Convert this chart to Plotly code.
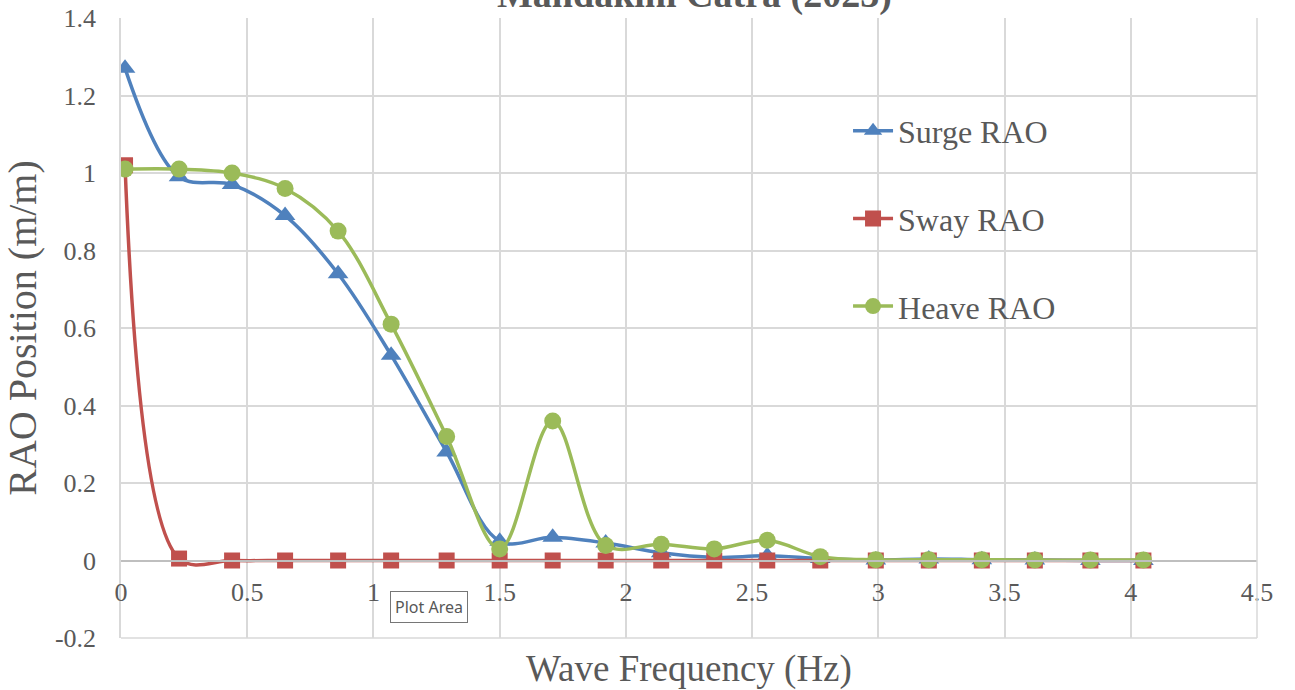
import plotly.graph_objects as go

freq = [0.016, 0.23, 0.44, 0.65, 0.86, 1.07, 1.29, 1.50, 1.71, 1.92,
        2.14, 2.35, 2.56, 2.77, 2.99, 3.20, 3.41, 3.62, 3.84, 4.05]
surge = [1.27, 0.99, 0.97, 0.89, 0.74, 0.53, 0.28, 0.05, 0.06, 0.045,
         0.02, 0.008, 0.012, 0.005, 0.001, 0.004, 0.002, 0.001, 0.0, 0.0]
sway = [1.02, 0.005, 0.0, 0.0, 0.0, 0.0, 0.0, 0.0, 0.0, 0.0,
        0.0, 0.0, 0.0, 0.0, 0.0, 0.0, 0.0, 0.0, 0.0, 0.0]
heave = [1.01, 1.01, 1.0, 0.96, 0.85, 0.61, 0.32, 0.03, 0.36, 0.039,
         0.042, 0.03, 0.052, 0.01, 0.002, 0.002, 0.002, 0.001, 0.001, 0.001]

x_ticks = [0, 0.5, 1, 1.5, 2, 2.5, 3, 3.5, 4, 4.5]
y_ticks = [-0.2, 0, 0.2, 0.4, 0.6, 0.8, 1, 1.2, 1.4]

SERIF = "Liberation Serif"
GRAY = "#595959"
GRID = "#D9D9D9"

fig = go.Figure()
series = [
    ("Surge RAO", surge, "#4F81BD", "triangle-up", 18),
    ("Sway RAO", sway, "#C0504D", "square", 16),
    ("Heave RAO", heave, "#9BBB59", "circle", 17),
]
for i, (name, vals, col, sym, size) in enumerate(series):
    fig.add_trace(go.Scatter(
        x=freq, y=vals, name=name, mode="lines+markers",
        line=dict(color=col, width=3.5, shape="spline", smoothing=1.0),
        marker=dict(color=col, symbol=sym, size=size),
        legendgroup=f"g{i}",
    ))

fig.update_layout(
    width=1295, height=690,
    margin=dict(l=121, r=38, t=18, b=52),
    plot_bgcolor="white", paper_bgcolor="white",
    font=dict(family=SERIF, color=GRAY),
    showlegend=True,
    legend=dict(x=0.64, y=0.862, xanchor="left", yanchor="top",
                font=dict(size=32, color=GRAY, family=SERIF),
                tracegroupgap=43, bgcolor="rgba(0,0,0,0)", itemwidth=40),
    xaxis=dict(range=[0, 4.5], tickvals=x_ticks, ticktext=[f"{v:g}" for v in x_ticks],
               showgrid=True, gridcolor=GRID, gridwidth=1.5,
               showline=True, linecolor="#BFBFBF", linewidth=2,
               zeroline=False, anchor="free", position=0.125, automargin=False,
               tickfont=dict(size=26, color=GRAY, family=SERIF),
               ticks="", ticklabelstandoff=8,
               title=dict(text="Wave Frequency (Hz)", font=dict(size=37, color=GRAY, family=SERIF),
                          standoff=62)),
    yaxis=dict(range=[-0.2, 1.4], tickvals=y_ticks, ticktext=[f"{v:g}" for v in y_ticks],
               showgrid=True, gridcolor=GRID, gridwidth=1.5,
               showline=True, linecolor=GRID, linewidth=1.5, automargin=False,
               zeroline=False, ticks="", ticklabelstandoff=18,
               tickfont=dict(size=26, color=GRAY, family=SERIF),
               title=dict(text="RAO Position (m/m)", font=dict(size=40, color=GRAY, family=SERIF),
                          standoff=12)),
)

# bottom and right border of plot area
fig.add_shape(type="line", xref="paper", yref="paper", x0=0, x1=1, y0=0, y1=0,
              line=dict(color=GRID, width=1.5))
fig.add_shape(type="line", xref="paper", yref="paper", x0=1, x1=1, y0=0, y1=1,
              line=dict(color=GRID, width=1.5))

# Title (partially cut off at top as in reference)
fig.add_annotation(text="<b>Mandakini Catra (2023)</b>", xref="paper", yref="paper",
                   x=0.505, y=1.0, xanchor="center", yanchor="bottom", showarrow=False,
                   font=dict(size=38, color=GRAY, family=SERIF))

# Excel tooltip
fig.add_annotation(text="Plot Area", xref="paper", yref="paper",
                   x=(429 - 121) / 1136, y=(637.5 - 606) / 620, xanchor="center", yanchor="middle",
                   showarrow=False, bgcolor="white", bordercolor="#767676", borderwidth=1, borderpad=4,
                   font=dict(size=16, color="#575757", family="Noto Sans, DejaVu Sans, sans-serif"))

fig.write_html("out.html", config={"displayModeBar": False},
               post_script="document.body.style.margin='0';document.body.style.overflow='hidden';")
